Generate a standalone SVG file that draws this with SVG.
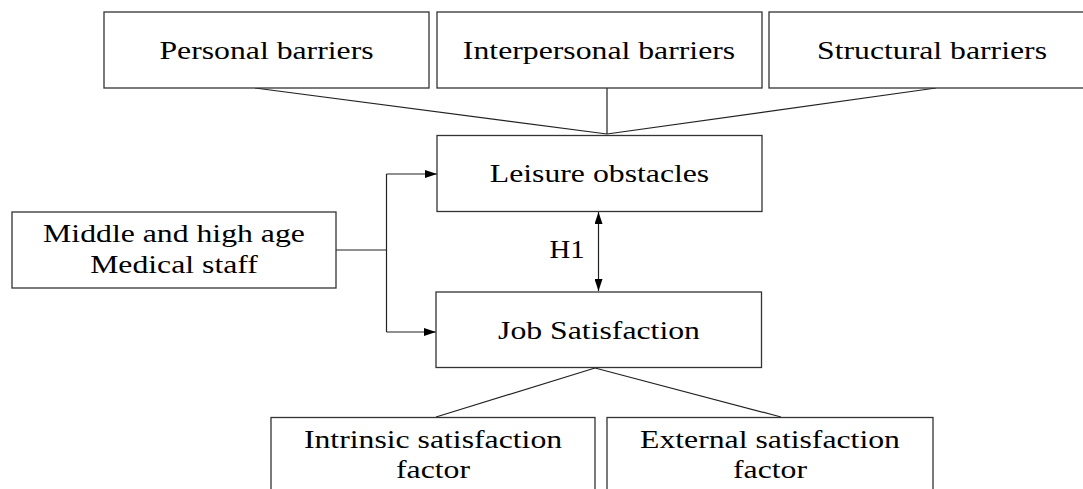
<svg xmlns="http://www.w3.org/2000/svg" width="1083" height="489" viewBox="0 0 1083 489">
<style>
.box{fill:#fff;stroke:#333;stroke-width:1.3}
.t{font-family:"Liberation Serif","Times New Roman",serif;font-size:25px;fill:#000;text-anchor:middle}
.c{fill:none;stroke:#222;stroke-width:1.2}
</style>
<defs>
<marker id="ah" viewBox="0 0 12 8" refX="12" refY="4" markerWidth="12" markerHeight="8" markerUnits="userSpaceOnUse" orient="auto-start-reverse">
<path d="M0,0 L12,4 L0,8 z" fill="#000"/>
</marker>
</defs>
<rect width="1083" height="489" fill="#fff"/>
<g id="connectors">
<path class="c" d="M255,88 L607,134"/>
<path class="c" d="M607,88 V134" stroke="#555"/>
<path class="c" d="M936,88 L607,134"/>
<path class="c" d="M336,250 H386.5"/>
<path class="c" d="M386.5,174 V332"/>
<path class="c" d="M386.5,174 H437" marker-end="url(#ah)"/>
<path class="c" d="M386.5,332 H436" marker-end="url(#ah)"/>
<path class="c" d="M598.5,212 V291" stroke="#555" marker-start="url(#ah)" marker-end="url(#ah)"/>
<path class="c" d="M595,368 L436,417"/>
<path class="c" d="M595,368 L781,417"/>
</g>
<g id="personal">
<rect class="box" x="104" y="12" width="325" height="76"/>
<text class="t" transform="translate(266.5,59) scale(1.27,1)">Personal barriers</text>
</g>
<g id="interpersonal">
<rect class="box" x="437" y="12" width="325" height="76"/>
<text class="t" transform="translate(599,59) scale(1.27,1)">Interpersonal barriers</text>
</g>
<g id="structural">
<rect class="box" x="769" y="12" width="380" height="76"/>
<text class="t" transform="translate(932,59) scale(1.27,1)">Structural barriers</text>
</g>
<g id="leisure">
<rect class="box" x="437" y="135.5" width="325" height="76"/>
<text class="t" transform="translate(599.5,182) scale(1.27,1)">Leisure obstacles</text>
</g>
<g id="h1">
<text class="t" transform="translate(567,258) scale(1.15,1)">H1</text>
</g>
<g id="middle">
<rect class="box" x="12" y="212" width="324" height="76"/>
<text class="t" transform="translate(174,242) scale(1.27,1)">Middle and high age</text>
<text class="t" transform="translate(174,273) scale(1.27,1)">Medical staff</text>
</g>
<g id="job">
<rect class="box" x="436" y="292" width="325.5" height="75.5"/>
<text class="t" transform="translate(599,339) scale(1.27,1)">Job Satisfaction</text>
</g>
<g id="intrinsic">
<rect class="box" x="271" y="417.5" width="324" height="100"/>
<text class="t" transform="translate(433,448) scale(1.27,1)">Intrinsic satisfaction</text>
<text class="t" transform="translate(433,478) scale(1.27,1)">factor</text>
</g>
<g id="external">
<rect class="box" x="607" y="417.5" width="326" height="100"/>
<text class="t" transform="translate(770,448) scale(1.27,1)">External satisfaction</text>
<text class="t" transform="translate(770,478) scale(1.27,1)">factor</text>
</g>
</svg>
